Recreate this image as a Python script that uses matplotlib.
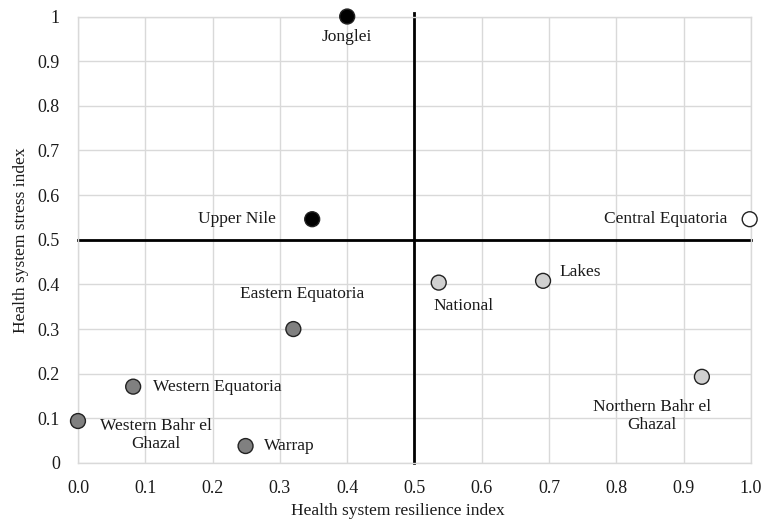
import matplotlib
matplotlib.use("Agg")
import matplotlib.pyplot as plt

plt.rcParams['font.family'] = ['Liberation Serif', 'DejaVu Serif']

names = ["Jonglei", "Upper Nile", "Central Equatoria", "National", "Lakes",
         "Northern Bahr el\nGhazal", "Eastern Equatoria", "Western Equatoria",
         "Western Bahr el\nGhazal", "Warrap"]
resilience = [0.40, 0.348, 0.998, 0.536, 0.691, 0.927, 0.320, 0.082, 0.0, 0.249]
stress = [1.0, 0.546, 0.546, 0.404, 0.408, 0.193, 0.300, 0.171, 0.094, 0.038]
fills = ["#000000", "#000000", "#ffffff", "#d0d0d0", "#d0d0d0", "#d0d0d0",
         "#808080", "#808080", "#808080", "#808080"]
# label offsets (points) and alignment
offsets = [(0, -15), (-26, 0), (-16, 0), (-4, -17), (12, 6), (-36, -28),
           (6, 25), (14, 0), (56, -10), (13, 0)]
haligns = ["center", "right", "right", "left", "left", "center",
           "center", "left", "center", "left"]

xticks = [0.0, 0.1, 0.2, 0.3, 0.4, 0.5, 0.6, 0.7, 0.8, 0.9, 1.0]
xticklabels = ["0.0", "0.1", "0.2", "0.3", "0.4", "0.5", "0.6", "0.7", "0.8", "0.9", "1.0"]
yticks = [0, 0.1, 0.2, 0.3, 0.4, 0.5, 0.6, 0.7, 0.8, 0.9, 1]
yticklabels = ["0", "0.1", "0.2", "0.3", "0.4", "0.5", "0.6", "0.7", "0.8", "0.9", "1"]

fig = plt.figure(figsize=(7.63, 5.26), dpi=100)
ax = fig.add_axes([0.1022, 0.1198, 0.8821, 0.8488])
ax.set_xlim(0, 1)
ax.set_ylim(0, 1)
ax.set_xticks(xticks)
ax.set_xticklabels(xticklabels)
ax.set_yticks(yticks)
ax.set_yticklabels(yticklabels)
ax.tick_params(length=0, labelsize=13, colors="#1a1a1a")
ax.tick_params(axis='x', pad=12)
ax.tick_params(axis='y', pad=13)
ax.grid(True, color="#d9d9d9", linewidth=1.0)
ax.set_axisbelow(True)
for s in ax.spines.values():
    s.set_color("#d9d9d9")
    s.set_linewidth(1.0)

ax.plot([0, 1], [0.5, 0.5], color="black", linewidth=2.0, zorder=2, clip_on=False)
ax.plot([0.5, 0.5], [0, 1.008], color="black", linewidth=2.0, zorder=2, clip_on=False)

ax.scatter(resilience, stress, s=115, c=fills, edgecolors="#222222",
           linewidths=1.0, zorder=3, clip_on=False)

for n, x, y, off, ha in zip(names, resilience, stress, offsets, haligns):
    ax.annotate(n, (x, y), xytext=off, textcoords="offset points",
                ha=ha, va="center", fontsize=12.5, color="#1a1a1a",
                multialignment="center", linespacing=1.15)

ax.set_xlabel("Health system resilience index", fontsize=12.5, color="#1a1a1a", labelpad=6)
ax.xaxis.set_label_coords(0.475, -0.09)
ax.set_ylabel("Health system stress index", fontsize=12.5, color="#1a1a1a", labelpad=6)

fig.savefig("out.png", dpi=100)
